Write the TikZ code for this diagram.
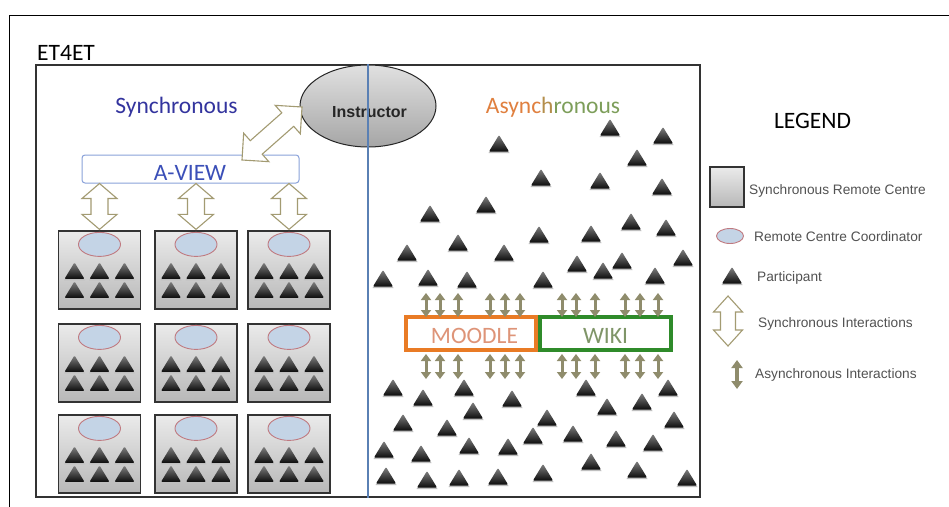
\documentclass[tikz,border=0pt]{standalone}
\usepackage{fontspec}
\setmainfont{Carlito}
\newfontfamily\arialfont{Liberation Sans}
\usetikzlibrary{calc,shapes.geometric,arrows.meta}
\definecolor{synblue}{HTML}{33349E}
\definecolor{aviewblue}{HTML}{3B4FB8}
\definecolor{aviewborder}{HTML}{8AA2DA}
\definecolor{divider}{HTML}{5A80B4}
\definecolor{syncol}{HTML}{A39B72}
\definecolor{asycol}{HTML}{8F8C6C}
\definecolor{moodleO}{HTML}{E97B25}
\definecolor{moodleT}{HTML}{DE9478}
\definecolor{wikiG}{HTML}{2F8B2A}
\definecolor{wikiT}{HTML}{7F9568}
\definecolor{coordblue}{HTML}{C4D4E6}
\definecolor{coordred}{HTML}{C07A80}
\definecolor{asyO}{HTML}{E0803F}
\definecolor{asyG}{HTML}{7D9E5A}
\newcommand\hollowarr[6][]{%
  \draw[synarr,#1] (#2) -- ($(#2)!#6!(#3)!#5!90:(#3)$) -- ($(#2)!#6!(#3)!#4!90:(#3)$)
   -- ($(#3)!#6!(#2)!#4!-90:(#2)$) -- ($(#3)!#6!(#2)!#5!-90:(#2)$) -- (#3)
   -- ($(#3)!#6!(#2)!#5!90:(#2)$) -- ($(#3)!#6!(#2)!#4!90:(#2)$)
   -- ($(#2)!#6!(#3)!#4!-90:(#3)$) -- ($(#2)!#6!(#3)!#5!-90:(#3)$) -- cycle;}
\tikzset{
  bigtxt/.style={font=\fontsize{23.5}{28}\selectfont, inner sep=0pt},
  legtxt/.style={font=\arialfont\fontsize{13.7}{16}\selectfont, text=black!68, inner sep=0pt, anchor=base west},
  rcbox/.style={draw=black!80, line width=1.2pt, top color=black!8, bottom color=black!28, minimum width=82pt, minimum height=78pt, inner sep=0pt},
  coord/.style={ellipse, draw=coordred, line width=0.9pt, fill=coordblue, minimum width=42pt, minimum height=24pt, inner sep=0pt},
  synarr/.style={draw=syncol, line width=1.1pt, fill=white, line join=miter},
  asyarr/.style={draw=asycol, line width=3pt, {Triangle[width=10pt,length=7pt]}-{Triangle[width=10pt,length=7pt]}},
  tri/.pic={\fill[black!25] (-10.5,10)--(0,-6.5)--(10.5,10)--cycle;
            \shade[top color=black!50, bottom color=black!95, rounded corners=1pt] (-10,8.5)--(0,-8)--(10,8.5)--cycle;},
  platform/.style={draw, line width=4pt, fill=white, inner sep=0pt}
}
\begin{document}
\begin{tikzpicture}[x=1pt,y=-1pt]
\path[use as bounding box, fill=white] (0,0) rectangle (949,506);
\clip (0,0) rectangle (949,506);
% outer frame (continues beyond the picture)
\node[draw, line width=1.3pt, minimum width=1000pt, minimum height=560pt, inner sep=0pt, anchor=north west] (outer) at (9,15) {};
% inner frame
\node[draw=black!80, line width=1.2pt, minimum width=664pt, minimum height=432pt, inner sep=0pt] (frame) at (368,281) {};
\node[bigtxt, anchor=base west] (heading) at (37,60) {ET4ET};
% headings
\node[bigtxt, anchor=base, text=synblue] (sync) at (176.5,113) {Synchronous};
\node[bigtxt, anchor=base] (async) at (553,113) {\textcolor{asyO}{Async}\textcolor{asyO!55!asyG}{h}\textcolor{asyG}{ronous}};
\node[bigtxt, anchor=base] (legend) at (812.5,128) {LEGEND};
% A-VIEW
\node[draw=aviewborder, line width=1pt, rounded corners=3pt, fill=white, minimum width=217pt, minimum height=28pt, inner sep=0pt] (aview) at (190.5,169) {};
\node[bigtxt, anchor=base, text=aviewblue] (aviewlbl) at (190,180) {A-VIEW};
% remote centres
\foreach \cc/\cx in {1/99.5,2/196,3/289}{
  \foreach \rr/\ty in {1/231,2/324,3/415}{
    \node[rcbox] (b\rr\cc) at (\cx,\ty+39) {};
    \node[coord] (k\rr\cc) at ($(b\rr\cc.north)+(0,14)$) {};
    \foreach \dx/\dy in {-25/40,0/40,25/40,-25/59,0/59,25/59}
      \pic at ($(b\rr\cc.north)+(\dx,\dy)$) {tri};
  }
}
% instructor
\node[ellipse, draw=black!85, line width=1pt, top color=black!12, bottom color=black!35, minimum width=136pt, minimum height=82pt, inner sep=0pt] (instr) at (368,106) {};
\node[font=\arialfont\bfseries\fontsize{16}{19}\selectfont, anchor=base, inner sep=0pt, text=black!85] (instrlbl) at (369.5,117) {Instructor};
% divider
\draw[divider, line width=1.5pt] (frame.north -| instr.center) -- (frame.south -| instr.center);
% async participants
\foreach \x/\y in {610/127,663/135,499/143,637/157,541/177,600/180,662/186,486/204,430/213,631/221,666/227,539/234,591/233,458/242,407/252,504/252,683/257,622/260,577/263,603/270,383/278,428/277,467/279,543/279,655/275,
 393/387,423/397,464/387,512/398,586/387,607/406,642/401,668/387,403/422,473/410,447/427,547/417,533/435,573/433,616/438,674/419,384/449,421/453,469/445,508/446,653/442,591/461,637/469,386/475,427/479,459/477,498/476,543/472,687/477}
  \pic at (\x,\y) {tri};
% platforms
\node[platform, draw=moodleO, minimum width=130pt, minimum height=33pt] (moodle) at (471,333.5) {};
\node[platform, draw=wikiG, minimum width=131pt, minimum height=33pt] (wiki) at (605.5,333.5) {};
\node[bigtxt, anchor=base, text=moodleT] (moodlelbl) at (474.5,343) {MOODLE};
\node[bigtxt, anchor=base, text=wikiT] (wikilbl) at (605.5,343) {WIKI};
% async interactions
\foreach \x in {428,442,460,492,507,522}{
  \draw[asyarr] ($(moodle.north west)+(\x-406,-22)$) -- ($(moodle.north west)+(\x-406,2)$);
  \draw[asyarr] ($(moodle.south west)+(\x-406,2)$) -- ($(moodle.south west)+(\x-406,27)$);
}
\foreach \x in {564,578,597,627,642,660}{
  \draw[asyarr] ($(wiki.north west)+(\x-540,-22)$) -- ($(wiki.north west)+(\x-540,2)$);
  \draw[asyarr] ($(wiki.south west)+(\x-540,2)$) -- ($(wiki.south west)+(\x-540,27)$);
}
% synchronous interactions
\coordinate (d1) at (242,160);
\coordinate (d2) at (302,107);
\hollowarr{d1}{d2}{9pt}{19pt}{19pt}
\foreach \cc in {1,2,3}{
  \coordinate (s\cc) at (b1\cc.north |- aview.south);
  \coordinate (e\cc) at ($(b1\cc.north)+(0,-1)$);
  \hollowarr{s\cc}{e\cc}{8.5pt}{17.5pt}{15pt}
}
% legend
\node[rcbox, minimum width=34pt, minimum height=40pt] (lbox) at (727,187) {};
\node[legtxt] (lt1) at (749,194) {Synchronous Remote Centre};
\node[coord, minimum width=27pt, minimum height=15pt] (lell) at (730,236) {};
\node[legtxt] (lt2) at (754,241) {Remote Centre Coordinator};
\pic at (732,275) {tri};
\node[legtxt] (lt3) at (757,281) {Participant};
\coordinate (la1) at (728,296);
\coordinate (la2) at (728,346);
\hollowarr{la1}{la2}{7.5pt}{14.5pt}{16pt}
\node[legtxt] (lt4) at (758,327) {Synchronous Interactions};
\coordinate (lb1) at (737,360);
\coordinate (lb2) at (737,389);
\draw[asyarr, line width=3.5pt, {Triangle[width=11pt,length=8pt]}-{Triangle[width=11pt,length=8pt]}] (lb1) -- (lb2);
\node[legtxt] (lt5) at (755,378) {Asynchronous Interactions};
\end{tikzpicture}
\end{document}
